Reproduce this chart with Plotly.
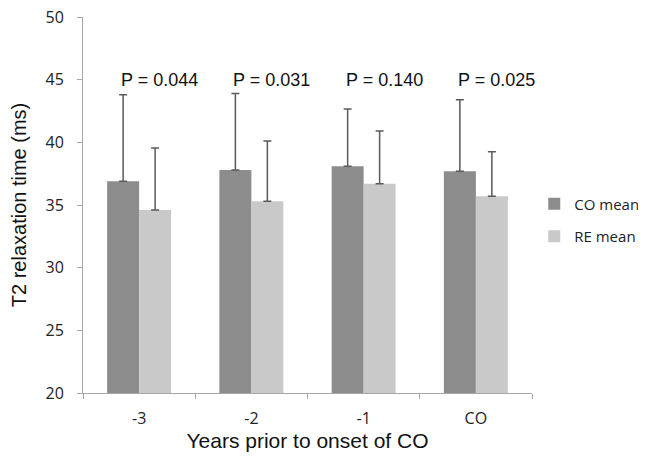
import plotly.graph_objects as go

categories = ["-3", "-2", "-1", "CO"]
co_mean = [36.9, 37.8, 38.1, 37.7]
co_err = [6.9, 6.1, 4.55, 5.7]
re_mean = [34.6, 35.3, 36.7, 35.7]
re_err = [4.95, 4.8, 4.2, 3.55]
p_labels = ["P = 0.044", "P = 0.031", "P = 0.140", "P = 0.025"]
p_y = 45

fig = go.Figure()
fig.add_trace(go.Bar(
    x=categories, y=co_mean, name="CO mean", legendgroup="a",
    marker=dict(color="#8c8c8c", line=dict(width=0)),
    error_y=dict(type="data", symmetric=False, array=co_err,
                 arrayminus=[0] * len(co_err), color="#5a5a5a",
                 thickness=1.5, width=4),
))
fig.add_trace(go.Bar(
    x=categories, y=re_mean, name="RE mean", legendgroup="b",
    marker=dict(color="#c9c9c9", line=dict(width=0)),
    error_y=dict(type="data", symmetric=False, array=re_err,
                 arrayminus=[0] * len(re_err), color="#5a5a5a",
                 thickness=1.5, width=4),
))

for i, t in enumerate(p_labels):
    fig.add_annotation(x=i, y=p_y, text=t, showarrow=False,
                       xanchor="left", yanchor="middle", xshift=-20,
                       font=dict(family="Liberation Sans, Arial", size=18, color="#111"))

fig.update_layout(
    width=646, height=463,
    margin=dict(l=75, r=122, t=9, b=78, autoexpand=False),
    paper_bgcolor="white", plot_bgcolor="white",
    barmode="group", bargap=0.43, bargroupgap=0,
    font=dict(family="Open Sans", size=16, color="#222"),
    legend=dict(x=1.005, xanchor="left", y=0.46, yanchor="middle",
                font=dict(family="Open Sans", size=15, color="#222"),
                tracegroupgap=10, traceorder="grouped", bgcolor="rgba(0,0,0,0)"),
    xaxis=dict(
        type="category", range=[-0.5, 3.5], showline=True, linecolor="#a6a6a6", linewidth=1,
        ticks="outside", tickson="boundaries", ticklen=5, tickcolor="#a6a6a6",
        tickfont=dict(family="Open Sans", size=16, color="#222"),
        showgrid=False, zeroline=False, ticklabelstandoff=11, automargin=False,
        ticklabeloverflow="allow",
        title=dict(text="Years prior to onset of CO", standoff=1,
                   font=dict(family="Liberation Sans, Arial", size=21, color="#111")),
    ),
    yaxis=dict(
        range=[20, 50], dtick=5, showline=True, linecolor="#a6a6a6", linewidth=1,
        ticks="outside", ticklen=5, tickcolor="#a6a6a6",
        tickfont=dict(family="Open Sans", size=16, color="#222"),
        showgrid=False, zeroline=False, ticklabelstandoff=10, automargin=False,
        ticklabeloverflow="allow",
        title=dict(text="T2 relaxation time (ms)", standoff=13,
                   font=dict(family="Liberation Sans, Arial", size=20, color="#111")),
    ),
)

fig.write_html("out.html")
